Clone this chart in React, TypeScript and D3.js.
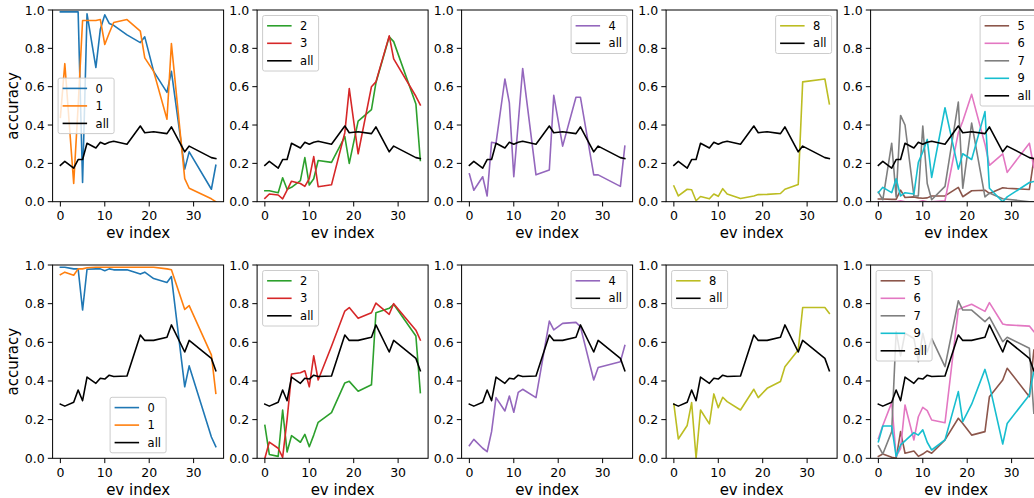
import * as d3 from "d3";

// ev indices shared by every series
const evIdx = [0, 1, 3, 4, 5, 6, 8, 9, 10, 11, 12, 15, 18, 19, 21, 24, 25, 28, 29, 34, 35];

// top row
const topAll = [0.19, 0.21, 0.175, 0.22, 0.22, 0.305, 0.28, 0.31, 0.30, 0.31, 0.315, 0.30, 0.395, 0.36, 0.365, 0.355, 0.39, 0.26, 0.29, 0.23, 0.225];
const top0 = [0.99, 0.99, 0.99, 0.99, 0.10, 0.98, 0.70, 0.90, 0.975, 0.93, 0.92, 0.87, 0.83, 0.86, 0.68, 0.57, 0.68, 0.17, 0.26, 0.065, 0.19];
const top1 = [0.44, 0.72, 0.095, 0.5, 0.945, 0.945, 0.945, 0.95, 0.82, 0.88, 0.935, 0.95, 0.89, 0.75, 0.68, 0.43, 0.825, 0.12, 0.07, 0.015, 0.0];
const top2 = [0.057, 0.057, 0.047, 0.125, 0.065, 0.075, 0.11, 0.23, 0.087, 0.12, 0.215, 0.205, 0.34, 0.20, 0.42, 0.48, 0.62, 0.86, 0.835, 0.51, 0.215];
const top3 = [0.018, 0.04, 0.035, 0.015, 0.06, 0.107, 0.095, 0.08, 0.12, 0.235, 0.078, 0.088, 0.36, 0.59, 0.25, 0.60, 0.625, 0.865, 0.745, 0.55, 0.505];
const top4 = [0.145, 0.06, 0.13, 0.03, 0.31, 0.305, 0.64, 0.515, 0.13, 0.41, 0.695, 0.14, 0.165, 0.555, 0.29, 0.545, 0.545, 0.14, 0.14, 0.08, 0.29];
const top5 = [0.014, 0.014, 0.012, 0.012, 0.06, 0.022, 0.025, 0.02, 0.018, 0.02, 0.03, 0.03, 0.075, 0.026, 0.057, 0.06, 0.043, 0.073, 0.07, 0.064, 0.22];
const top6 = [0.0, 0.0, 0.0, 0.0, 0.005, 0.0, 0.0, 0.0, 0.005, 0.0, 0.0, 0.005, 0.36, 0.42, 0.56, 0.30, 0.19, 0.25, 0.153, 0.305, 0.18];
const top7 = [0.05, 0.01, 0.305, 0.025, 0.45, 0.40, 0.03, 0.03, 0.395, 0.095, 0.01, 0.08, 0.52, 0.07, 0.41, 0.025, 0.045, 0.015, 0.013, 0.0, 0.0];
const top8 = [0.082, 0.03, 0.065, 0.062, 0.005, 0.027, 0.015, 0.04, 0.028, 0.068, 0.04, 0.017, 0.03, 0.037, 0.038, 0.043, 0.065, 0.09, 0.625, 0.64, 0.51];
const top9 = [0.047, 0.075, 0.047, 0.12, 0.03, 0.047, 0.04, 0.205, 0.26, 0.325, 0.127, 0.49, 0.17, 0.25, 0.22, 0.47, 0.07, 0.0, 0.025, 0.10, 0.105];

// bottom row
const botAll = [0.28, 0.27, 0.29, 0.353, 0.298, 0.42, 0.388, 0.414, 0.41, 0.43, 0.423, 0.426, 0.638, 0.61, 0.61, 0.626, 0.69, 0.55, 0.61, 0.517, 0.453];
const bot0 = [0.988, 0.988, 0.98, 0.98, 0.767, 0.978, 0.98, 0.98, 0.97, 0.98, 0.975, 0.975, 0.953, 0.963, 0.93, 0.91, 0.94, 0.37, 0.478, 0.11, 0.06];
const bot1 = [0.95, 0.963, 0.947, 0.98, 0.98, 0.986, 0.988, 0.988, 0.988, 0.988, 0.988, 0.988, 0.988, 0.988, 0.988, 0.98, 0.975, 0.77, 0.79, 0.535, 0.336];
const bot2 = [0.17, 0.02, 0.01, 0.25, 0.033, 0.117, 0.083, 0.124, 0.06, 0.12, 0.186, 0.236, 0.39, 0.398, 0.347, 0.38, 0.753, 0.776, 0.797, 0.633, 0.34];
const bot3 = [0.0, 0.084, 0.052, 0.005, 0.2, 0.436, 0.443, 0.453, 0.37, 0.53, 0.405, 0.58, 0.762, 0.78, 0.724, 0.753, 0.803, 0.745, 0.80, 0.663, 0.612];
const bot4 = [0.066, 0.098, 0.052, 0.034, 0.138, 0.314, 0.245, 0.322, 0.238, 0.341, 0.357, 0.314, 0.71, 0.664, 0.698, 0.703, 0.681, 0.405, 0.47, 0.5, 0.583];
const bot5 = [0.01, 0.022, 0.005, 0.0, 0.138, 0.026, 0.038, 0.01, 0.022, 0.038, 0.026, 0.095, 0.207, 0.18, 0.12, 0.138, 0.319, 0.405, 0.466, 0.319, 0.56];
const bot6 = [0.103, 0.17, 0.288, 0.01, 0.05, 0.276, 0.095, 0.215, 0.264, 0.247, 0.198, 0.184, 0.77, 0.78, 0.797, 0.76, 0.805, 0.695, 0.69, 0.684, 0.655];
const bot7 = [0.064, 0.022, 0.138, 0.655, 0.53, 0.647, 0.62, 0.50, 0.647, 0.55, 0.62, 0.474, 0.815, 0.767, 0.767, 0.707, 0.73, 0.603, 0.626, 0.569, 0.233];
const bot8 = [0.28, 0.10, 0.17, 0.288, 0.0, 0.25, 0.178, 0.333, 0.262, 0.316, 0.293, 0.25, 0.357, 0.314, 0.362, 0.397, 0.474, 0.56, 0.78, 0.78, 0.75];
const bot9 = [0.086, 0.167, 0.167, 0.01, 0.069, 0.09, 0.133, 0.12, 0.147, 0.083, 0.043, 0.095, 0.345, 0.19, 0.28, 0.46, 0.38, 0.074, 0.18, 0.328, 0.453];

const groups = [["0", "1"], ["2", "3"], ["4"], ["8"], ["5", "6", "7", "9"]];
const topSeries: Record<string, number[]> = { "0": top0, "1": top1, "2": top2, "3": top3, "4": top4, "5": top5, "6": top6, "7": top7, "8": top8, "9": top9, all: topAll };
const botSeries: Record<string, number[]> = { "0": bot0, "1": bot1, "2": bot2, "3": bot3, "4": bot4, "5": bot5, "6": bot6, "7": bot7, "8": bot8, "9": bot9, all: botAll };
const topLegendLoc = ["center left", "upper left", "upper right", "upper right", "upper right"];
const botLegendLoc = ["lower center", "upper left", "upper right", "upper left", "upper left"];
const yTicks = [0, 0.2, 0.4, 0.6, 0.8, 1.0];
const xTicks = [0, 10, 20, 30];

const colors: Record<string, string> = {
  "0": "#1f77b4", "1": "#ff7f0e", "2": "#2ca02c", "3": "#d62728", "4": "#9467bd",
  "5": "#8c564b", "6": "#e377c2", "7": "#7f7f7f", "8": "#bcbd22", "9": "#17becf", all: "#000000",
};

const W = 1034;
const H = 498;
const AX_W = 171;
const rows = [{ top: 10, bottom: 201.7 }, { top: 265, bottom: 458.3 }];
const colLeft = (c: number) => 52.6 + c * 204.5;
const FONT = "DejaVu Sans, sans-serif";
const TICK_FS = 12.5;
const LEG_FS = 11.5;

function Panel({ row, col, series, loc }: { row: number; col: number; series: Record<string, number[]>; loc: string }) {
  const { top, bottom } = rows[row];
  const left = colLeft(col);
  const right = left + AX_W;
  const x = d3.scaleLinear().domain([-1.75, 36.75]).range([left, right]);
  const y = d3.scaleLinear().domain([0, 1]).range([bottom, top]);
  const line = d3.line<number>().x((_, i) => x(evIdx[i])).y((d) => y(d));
  const keys = [...groups[col], "all"];
  const clipId = `clip-${row}-${col}`;

  // legend box
  const pad = 5.5;
  const boxW = 56;
  const rowH = 17.5;
  const boxH = keys.length * rowH + 3;
  let bx = left + pad;
  let by = top + pad;
  if (loc === "upper right") bx = right - pad - boxW;
  if (loc === "center left") by = (top + bottom) / 2 - boxH / 2;
  if (loc === "lower center") {
    bx = (left + right) / 2 - boxW / 2;
    by = bottom - pad - boxH;
  }

  return (
    <g>
      <defs>
        <clipPath id={clipId}>
          <rect x={left} y={top} width={AX_W} height={bottom - top} />
        </clipPath>
      </defs>
      <rect x={left} y={top} width={AX_W} height={bottom - top} fill="white" />
      <g clipPath={`url(#${clipId})`}>
        {keys.map((k) => (
          <path key={k} d={line(series[k]) || ""} fill="none" stroke={colors[k]} strokeWidth={1.6} strokeLinejoin="round" strokeLinecap="square" />
        ))}
      </g>
      <rect x={left} y={top} width={AX_W} height={bottom - top} fill="none" stroke="black" strokeWidth={1} />
      {yTicks.map((t) => (
        <g key={t}>
          <line x1={left - 4.8} x2={left} y1={y(t)} y2={y(t)} stroke="black" strokeWidth={1} />
          <text x={left - 8} y={y(t)} dy="0.36em" textAnchor="end" fontSize={TICK_FS} fontFamily={FONT} fill="#000">
            {t.toFixed(1)}
          </text>
        </g>
      ))}
      {xTicks.map((t) => (
        <g key={t}>
          <line x1={x(t)} x2={x(t)} y1={bottom} y2={bottom + 4.8} stroke="black" strokeWidth={1} />
          <text x={x(t)} y={bottom + 18.5} textAnchor="middle" fontSize={TICK_FS} fontFamily={FONT} fill="#000">
            {t}
          </text>
        </g>
      ))}
      <text x={(left + right) / 2} y={bottom + 36.5} textAnchor="middle" fontSize={15} fontFamily={FONT} fill="#000">
        ev index
      </text>
      {col === 0 && (
        <text transform={`translate(17.5, ${(top + bottom) / 2}) rotate(-90)`} textAnchor="middle" fontSize={15} fontFamily={FONT} fill="#000">
          accuracy
        </text>
      )}
      <g>
        <rect x={bx} y={by} width={boxW} height={boxH} rx={2} fill="white" fillOpacity={0.8} stroke="#cccccc" strokeWidth={1} />
        {keys.map((k, i) => {
          const cy = by + 10.3 + i * rowH;
          return (
            <g key={k}>
              <line x1={bx + 4.5} x2={bx + 29} y1={cy} y2={cy} stroke={colors[k]} strokeWidth={1.6} />
              <text x={bx + 37.5} y={cy} dy="0.36em" fontSize={LEG_FS} fontFamily={FONT} fill="#000">
                {k}
              </text>
            </g>
          );
        })}
      </g>
    </g>
  );
}

export default function App() {
  return (
    <svg width={W} height={H} style={{ position: "absolute", left: 0, top: 0, background: "white" }}>
      <rect x={0} y={0} width={W} height={H} fill="white" />
      {groups.map((_, c) => (
        <Panel key={`t${c}`} row={0} col={c} series={topSeries} loc={topLegendLoc[c]} />
      ))}
      {groups.map((_, c) => (
        <Panel key={`b${c}`} row={1} col={c} series={botSeries} loc={botLegendLoc[c]} />
      ))}
    </svg>
  );
}
